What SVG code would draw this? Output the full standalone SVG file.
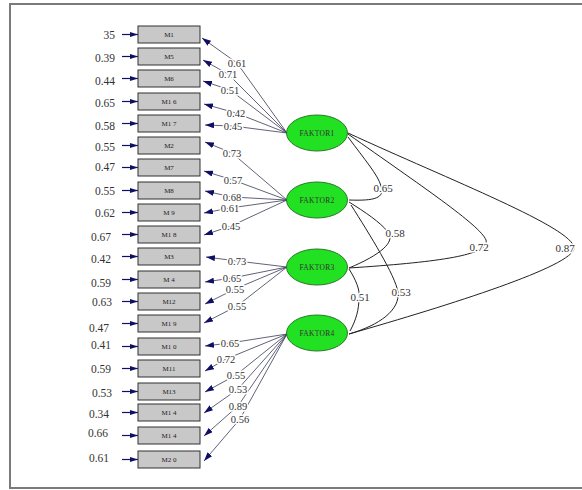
<svg xmlns="http://www.w3.org/2000/svg" width="582" height="490" viewBox="0 0 582 490">
<defs>
<marker id="ah" markerUnits="userSpaceOnUse" markerWidth="10" markerHeight="6" refX="9" refY="3" orient="auto"><path d="M0,0 L9,3 L0,6 z" fill="#0f0f66"/></marker>
<marker id="eh" markerUnits="userSpaceOnUse" markerWidth="8" markerHeight="6" refX="8" refY="3" orient="auto"><path d="M0,0.5 L8,3 L0,5.5 z" fill="#0f0f66"/></marker>
</defs>
<style>
.box{fill:#c8c8c8;stroke:#303030;stroke-width:1}
.bl{font-family:"Liberation Serif",serif;font-size:7px;fill:#222;text-anchor:middle}
.ev{font-family:"Liberation Serif",serif;font-size:11.5px;fill:#333;text-anchor:end}
.ea{stroke:#0f0f66;stroke-width:1.2;marker-end:url(#eh)}
.ld{fill:none;stroke:#3a3a55;stroke-width:0.8;marker-end:url(#ah)}
.lb{font-family:"Liberation Serif",serif;font-size:10.5px;fill:#333;text-anchor:middle;stroke:#fff;stroke-width:3;paint-order:stroke;stroke-linejoin:round}
.fk{fill:#22e022;stroke:#2a7a2a;stroke-width:1}
.fl{font-family:"Liberation Serif",serif;font-size:7.5px;fill:#333;text-anchor:middle;letter-spacing:0.3px}
.cr{fill:none;stroke:#222;stroke-width:1}
.cl{font-family:"Liberation Serif",serif;font-size:11px;fill:#333;text-anchor:middle;stroke:#fff;stroke-width:3;paint-order:stroke;stroke-linejoin:round}
</style>
<rect x="10" y="4" width="600" height="484" fill="#fff" stroke="#7a7a7a" stroke-width="2"/>

<g id="connectors">
<path class="ld" d="M287,133 L237,63 L202,38"/>
<path class="ld" d="M287,133 L228,74 L203,60"/>
<path class="ld" d="M287,133 L230,90 L203,81"/>
<path class="ld" d="M287,133 L236,113 L204,104"/>
<path class="ld" d="M287,133 L233,126 L205,125"/>
<path class="ld" d="M287,200 L232,153 L205,142"/>
<path class="ld" d="M287,200 L233,180 L204,171"/>
<path class="ld" d="M287,200 L232,197 L205,191"/>
<path class="ld" d="M287,200 L230,208 L204,213"/>
<path class="ld" d="M287,200 L231,226 L204,235"/>
<path class="ld" d="M287,267 L237,261 L206,257"/>
<path class="ld" d="M287,267 L232,278 L205,282"/>
<path class="ld" d="M287,267 L235,289 L205,304"/>
<path class="ld" d="M287,267 L237,306 L204,323"/>
<path class="ld" d="M287,334 L230,343 L205,346"/>
<path class="ld" d="M287,334 L226,359 L205,371"/>
<path class="ld" d="M287,334 L236,375 L205,392"/>
<path class="ld" d="M287,334 L238,389 L204,413"/>
<path class="ld" d="M287,334 L238,406 L204,436"/>
<path class="ld" d="M287,334 L240,419 L204,461"/>
<line class="ea" x1="122" y1="34.5" x2="138" y2="34.5"/>
<line class="ea" x1="122" y1="56.5" x2="138" y2="56.5"/>
<line class="ea" x1="122" y1="78.5" x2="138" y2="78.5"/>
<line class="ea" x1="122" y1="101.5" x2="138" y2="101.5"/>
<line class="ea" x1="122" y1="123.5" x2="138" y2="123.5"/>
<line class="ea" x1="122" y1="145.5" x2="138" y2="145.5"/>
<line class="ea" x1="122" y1="167.5" x2="138" y2="167.5"/>
<line class="ea" x1="122" y1="190.5" x2="138" y2="190.5"/>
<line class="ea" x1="122" y1="212.5" x2="138" y2="212.5"/>
<line class="ea" x1="122" y1="234.5" x2="138" y2="234.5"/>
<line class="ea" x1="122" y1="256.5" x2="138" y2="256.5"/>
<line class="ea" x1="122" y1="279.5" x2="138" y2="279.5"/>
<line class="ea" x1="122" y1="301.5" x2="138" y2="301.5"/>
<line class="ea" x1="122" y1="323.5" x2="138" y2="323.5"/>
<line class="ea" x1="122" y1="346.5" x2="138" y2="346.5"/>
<line class="ea" x1="122" y1="368.5" x2="138" y2="368.5"/>
<line class="ea" x1="122" y1="391.5" x2="138" y2="391.5"/>
<line class="ea" x1="122" y1="412.5" x2="138" y2="412.5"/>
<line class="ea" x1="122" y1="435.5" x2="138" y2="435.5"/>
<line class="ea" x1="122" y1="459.5" x2="138" y2="459.5"/>
<path class="cr" d="M348,137 C365,160 378,175 381,186 C385,198 375,201 349,200"/>
<path class="cr" d="M348,134 C420,185 480,225 486,240 C490,255 440,262 349,268"/>
<path class="cr" d="M348,133 C450,180 574,228 574,248 C574,266 450,305 349,334"/>
<path class="cr" d="M349,202 C365,212 380,222 388,232 C396,242 380,255 349,268"/>
<path class="cr" d="M351,205 C370,235 395,275 398,292 C400,310 380,325 349,334"/>
<path class="cr" d="M349,269 C356,280 360,290 359,297 C359,310 356,320 350,331"/>
<text class="lb" x="237" y="67">0.61</text>
<text class="lb" x="228" y="78">0.71</text>
<text class="lb" x="230" y="94">0.51</text>
<text class="lb" x="236" y="117">0.42</text>
<text class="lb" x="233" y="130">0.45</text>
<text class="lb" x="232" y="157">0.73</text>
<text class="lb" x="233" y="184">0.57</text>
<text class="lb" x="232" y="201">0.68</text>
<text class="lb" x="230" y="212">0.61</text>
<text class="lb" x="231" y="230">0.45</text>
<text class="lb" x="237" y="265">0.73</text>
<text class="lb" x="232" y="282">0.65</text>
<text class="lb" x="235" y="293">0.55</text>
<text class="lb" x="237" y="310">0.55</text>
<text class="lb" x="230" y="347">0.65</text>
<text class="lb" x="226" y="363">0.72</text>
<text class="lb" x="236" y="379">0.55</text>
<text class="lb" x="238" y="393">0.53</text>
<text class="lb" x="238" y="410">0.89</text>
<text class="lb" x="240" y="423">0.56</text>
<text class="cl" x="383" y="192">0.65</text>
<text class="cl" x="479" y="251">0.72</text>
<text class="cl" x="565" y="252">0.87</text>
<text class="cl" x="395" y="237">0.58</text>
<text class="cl" x="401" y="296">0.53</text>
<text class="cl" x="360" y="301">0.51</text>
</g>

<g id="errors">
<text class="ev" x="115" y="39">35</text>
<text class="ev" x="115" y="62">0.39</text>
<text class="ev" x="115" y="85">0.44</text>
<text class="ev" x="115" y="107">0.65</text>
<text class="ev" x="115" y="130">0.58</text>
<text class="ev" x="115" y="151">0.55</text>
<text class="ev" x="115" y="171">0.47</text>
<text class="ev" x="115" y="195">0.55</text>
<text class="ev" x="115" y="217">0.62</text>
<text class="ev" x="111" y="241">0.67</text>
<text class="ev" x="111" y="263">0.42</text>
<text class="ev" x="111" y="287">0.59</text>
<text class="ev" x="112" y="306">0.63</text>
<text class="ev" x="109" y="332">0.47</text>
<text class="ev" x="111" y="349">0.41</text>
<text class="ev" x="111" y="373">0.59</text>
<text class="ev" x="112" y="397">0.53</text>
<text class="ev" x="109" y="418">0.34</text>
<text class="ev" x="108" y="437">0.66</text>
<text class="ev" x="109" y="462">0.61</text>
</g>

<g id="M1"><rect class="box" x="138" y="26" width="62" height="17"/><text class="bl" x="169" y="37">M1</text></g>
<g id="M5"><rect class="box" x="138" y="48" width="62" height="17"/><text class="bl" x="169" y="59">M5</text></g>
<g id="M6"><rect class="box" x="138" y="70" width="62" height="17"/><text class="bl" x="169" y="81">M6</text></g>
<g id="M16"><rect class="box" x="138" y="93" width="62" height="17"/><text class="bl" x="169" y="104">M1 6</text></g>
<g id="M17"><rect class="box" x="138" y="115" width="62" height="17"/><text class="bl" x="169" y="126">M1 7</text></g>
<g id="M2"><rect class="box" x="138" y="137" width="62" height="17"/><text class="bl" x="169" y="148">M2</text></g>
<g id="M7"><rect class="box" x="138" y="159" width="62" height="17"/><text class="bl" x="169" y="170">M7</text></g>
<g id="M8"><rect class="box" x="138" y="182" width="62" height="17"/><text class="bl" x="169" y="193">M8</text></g>
<g id="M9"><rect class="box" x="138" y="204" width="62" height="17"/><text class="bl" x="169" y="215">M 9</text></g>
<g id="M18"><rect class="box" x="138" y="226" width="62" height="17"/><text class="bl" x="169" y="237">M1 8</text></g>
<g id="M3"><rect class="box" x="138" y="248" width="62" height="17"/><text class="bl" x="169" y="259">M3</text></g>
<g id="M4"><rect class="box" x="138" y="271" width="62" height="17"/><text class="bl" x="169" y="282">M 4</text></g>
<g id="M12"><rect class="box" x="138" y="293" width="62" height="17"/><text class="bl" x="169" y="304">M12</text></g>
<g id="M19"><rect class="box" x="138" y="315" width="62" height="17"/><text class="bl" x="169" y="326">M1 9</text></g>
<g id="M10"><rect class="box" x="138" y="338" width="62" height="17"/><text class="bl" x="169" y="349">M1 0</text></g>
<g id="M11"><rect class="box" x="138" y="360" width="62" height="17"/><text class="bl" x="169" y="371">M11</text></g>
<g id="M13"><rect class="box" x="138" y="383" width="62" height="17"/><text class="bl" x="169" y="394">M13</text></g>
<g id="M14a"><rect class="box" x="138" y="404" width="62" height="17"/><text class="bl" x="169" y="415">M1 4</text></g>
<g id="M14b"><rect class="box" x="138" y="427" width="62" height="17"/><text class="bl" x="169" y="438">M1 4</text></g>
<g id="M20"><rect class="box" x="138" y="451" width="62" height="17"/><text class="bl" x="169" y="462">M2 0</text></g>

<g id="FAKTOR1"><ellipse class="fk" cx="317" cy="133" rx="30.5" ry="18"/><text class="fl" x="317" y="136">FAKTOR1</text></g>
<g id="FAKTOR2"><ellipse class="fk" cx="317" cy="200" rx="30.5" ry="18"/><text class="fl" x="317" y="203">FAKTOR2</text></g>
<g id="FAKTOR3"><ellipse class="fk" cx="317" cy="267" rx="30.5" ry="18"/><text class="fl" x="317" y="270">FAKTOR3</text></g>
<g id="FAKTOR4"><ellipse class="fk" cx="317" cy="333" rx="30.5" ry="18"/><text class="fl" x="317" y="336">FAKTOR4</text></g>
</svg>
